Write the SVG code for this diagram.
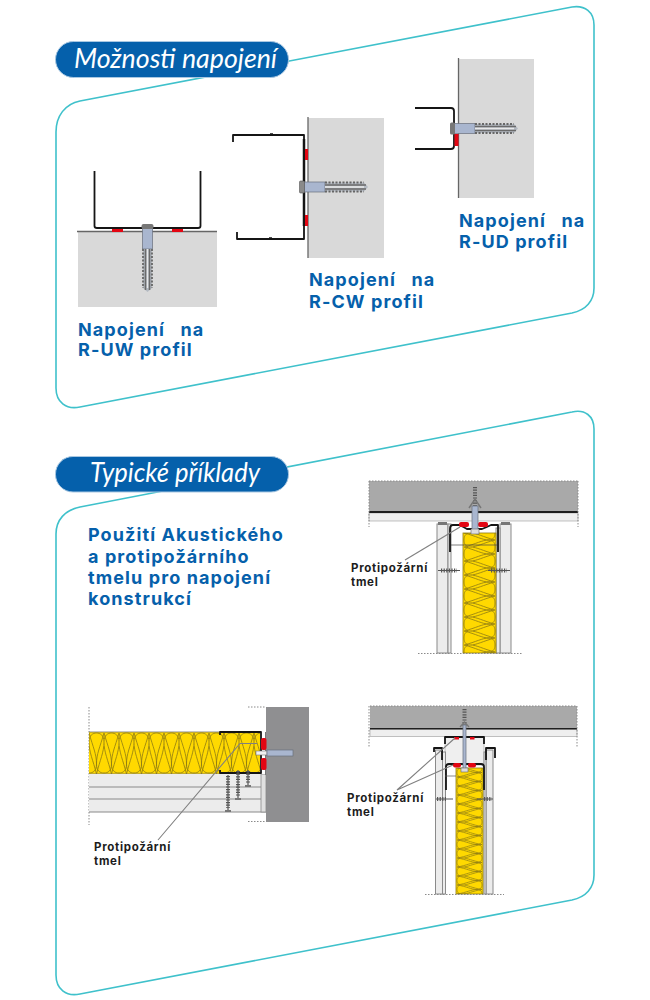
<svg xmlns="http://www.w3.org/2000/svg" xmlns:xlink="http://www.w3.org/1999/xlink" width="650" height="1000" viewBox="0 0 650 1000">
<style>
.panel{fill:none;stroke:#3fc1cb;stroke-width:1.6}
.pill{fill:#0560ab;stroke:#a9c8e2;stroke-width:1}
.head{font-family:"Lato","Liberation Sans",sans-serif;font-style:italic;font-size:27px;fill:#fff}
.lab{font-family:"Inter","Liberation Sans",sans-serif;font-weight:700;font-size:18px;letter-spacing:1.1px;fill:#0560ab}
.note{font-family:"Inter","Liberation Sans",sans-serif;font-weight:700;font-size:11.5px;letter-spacing:.7px;fill:#1c1c1c}
.conc{fill:#d9d9d9}
.dark{fill:#a9a9a9}
.prof{fill:none;stroke:#151515;stroke-width:1.8;stroke-linejoin:round}
.red{fill:#e30613}
.edge{stroke:#666;stroke-width:1.3;fill:none}
.board{fill:#ececec;stroke:#8a8a8a;stroke-width:1}
.lead{stroke:#808080;stroke-width:1.1;fill:none}
.dots{stroke:#8a8a8a;stroke-width:1;stroke-dasharray:1.5 1.5;fill:none}
.srod{stroke:#555;stroke-width:1.2}
.sthr{stroke:#555;stroke-width:4;stroke-dasharray:1.2 1.4}
.rod{fill:#a9b6cf;stroke:#68707c;stroke-width:.7}
</style>
<defs>
<g id="anchor">
<rect class="rod" x="0" y="-5" width="21" height="10"/>
<path d="M21-4.500H60L64 0L60 4.500H21Z" fill="#b4bac2"/>
<path d="M21-4.500H60M21 4.500H60" stroke="#666" stroke-width="1.800" stroke-dasharray="2 1.500"/>
<path d="M21-2H62M21 2H62" stroke="#6a6a6a" stroke-width="1.600"/>
<path d="M21 0H60" stroke="#e8e8e8" stroke-width="1.300"/>
</g>
<pattern id="woolA" patternUnits="userSpaceOnUse" x="463" y="533" width="33" height="14">
<rect width="33" height="14" fill="#ffd900"/>
<path d="M32 7C20 4 14 0 7 0C2 0 1 4 1 7C1 10 2 14 7 14C14 14 20 10 32 7ZM1 0C13 3 19 7 26 7C31 7 32 3 32 0M1 0C13-3 19-7 26-7C31-7 32-3 32 0M1 14C13 11 19 7 26 7C31 7 32 11 32 14" fill="none" stroke="#8d7a12" stroke-width=".8"/>
</pattern>
<pattern id="woolB" patternUnits="userSpaceOnUse" x="89" y="732" width="15" height="42">
<rect width="15" height="42" fill="#ffd900"/>
<path d="M7.500 42C4 28 0 20 0 10C0 3 4 1 7.500 1C11 1 15 3 15 10C15 20 11 28 7.500 42ZM0 1C-4 15-7.500 22-7.500 32C-7.500 39-4 41 0 41C4 41 7.500 39 7.500 32C7.500 22 4 15 0 1ZM15 1C11 15 7.500 22 7.500 32C7.500 39 11 41 15 41C19 41 22.500 39 22.500 32C22.500 22 19 15 15 1Z" fill="none" stroke="#8d7a12" stroke-width=".8"/>
</pattern>
<pattern id="woolC" patternUnits="userSpaceOnUse" x="456" y="768" width="27" height="9">
<rect width="27" height="9" fill="#ffd900"/>
<path d="M26 4.500C16 3 12 0 6 0C2 0 1 2 1 4.500C1 7 2 9 6 9C12 9 16 6 26 4.500ZM1 0C11-1.500 15-4.500 21-4.500C25-4.500 26-2 26 0C26 2 25 4.500 21 4.500C15 4.500 11 1.500 1 0ZM1 9C11 7.500 15 4.500 21 4.500C25 4.500 26 7 26 9C26 11 25 13.500 21 13.500C15 13.500 11 10.500 1 9Z" fill="none" stroke="#8d7a12" stroke-width=".7"/>
</pattern>
</defs>

<g id="panel-1">
<path class="panel" d="M56 132C56 116 65 104 80 101L572 7C585 5 594 12 594 25V288C594 301 586 310 572 313L80 407C66 410 56 402 56 388Z"/>
<rect class="pill" x="55.500" y="41.500" width="233" height="36" rx="18"/>
<text class="head" x="74" y="68" textLength="203" lengthAdjust="spacingAndGlyphs">Možnosti napojení</text>
</g>

<g id="r-uw">
<rect class="conc" x="78" y="232" width="139" height="75"/>
<path class="edge" d="M77 231.500H217"/>
<path class="prof" d="M94.500 171V226Q94.500 228 97 228H198Q200.500 228 200.500 226V171"/>
<rect class="red" x="112" y="229" width="11" height="3"/>
<rect class="red" x="172" y="229" width="11" height="3"/>
<use xlink:href="#anchor" href="#anchor" transform="translate(147.500 228) rotate(90)"/>
<rect x="141.500" y="224" width="12" height="5" rx="2" fill="#777"/>
<text class="lab" x="78" y="336" word-spacing="10">Napojení na</text>
<text class="lab" x="78" y="356">R-UW profil</text>
</g>

<g id="r-cw">
<rect class="conc" x="308" y="118" width="76" height="140"/>
<path class="edge" d="M308 117V258"/>
<path class="prof" d="M233 142V135H304V239H237V232"/>
<path d="M304 139V226" stroke="#151515" stroke-width="2.500"/>
<path d="M270 134.500h3M269 238.500h3" stroke="#151515" stroke-width="2.500"/>
<rect class="red" x="305" y="149" width="3" height="11"/>
<rect class="red" x="305" y="215" width="3" height="11"/>
<use xlink:href="#anchor" href="#anchor" transform="translate(304 187)"/>
<rect x="299.500" y="181" width="5" height="12" rx="1" fill="#8a8a8a" stroke="#555" stroke-width=".6"/>
<text class="lab" x="309" y="286" word-spacing="10">Napojení na</text>
<text class="lab" x="309" y="308">R-CW profil</text>
</g>

<g id="r-ud">
<rect class="conc" x="459" y="59" width="75" height="139"/>
<path class="edge" d="M458.500 58V198"/>
<path class="prof" d="M415 108H451Q454 108 454 111V146Q454 149 451 149H415"/>
<rect class="red" x="454.500" y="134" width="4" height="12"/>
<use xlink:href="#anchor" href="#anchor" transform="translate(454 128.500)"/>
<rect x="450" y="122.500" width="5" height="12" rx="1.500" fill="#777"/>
<text class="lab" x="459" y="227" word-spacing="10">Napojení na</text>
<text class="lab" x="459" y="248">R-UD profil</text>
</g>

<g id="panel-2">
<path class="panel" d="M56 534C56 520 65 510 80 507L572 412C585 409 594 416 594 429V875C594 888 586 897 572 900L80 994C66 997 56 989 56 975Z"/>
<rect class="pill" x="55.500" y="456.500" width="233" height="35.500" rx="17.500"/>
<text class="head" x="90" y="482" textLength="170" lengthAdjust="spacingAndGlyphs">Typické příklady</text>
<text class="lab" x="88" y="541">Použití Akustického</text>
<text class="lab" x="88" y="563">a protipožárního</text>
<text class="lab" x="88" y="584">tmelu pro napojení</text>
<text class="lab" x="88" y="605">konstrukcí</text>
</g>

<g id="detail-top">
<rect class="dark" x="369" y="481" width="209" height="30"/>
<rect x="369" y="513" width="209" height="8" fill="#efefef" stroke="#999" stroke-width=".6"/>
<rect x="369" y="511" width="209" height="2" fill="#1e1e1e"/>
<path class="dots" d="M369 481H578M369 481V527M578 481V527"/>
<rect class="board" x="437" y="524" width="11" height="129"/>
<rect class="board" x="448" y="524" width="3" height="129"/>
<rect class="board" x="500" y="524" width="11" height="129"/>
<rect class="board" x="496" y="528" width="4" height="125"/>
<rect x="438" y="522" width="9" height="3" fill="#777"/><rect x="501" y="522" width="9" height="3" fill="#777"/>
<rect x="463" y="533" width="33" height="120" fill="url(#woolA)" stroke="#8d7a12" stroke-width=".8"/>
<path class="prof" d="M450 552V529Q450 525 453 525H459Q464 527 467 529H482Q487 527 491 525H498V552" stroke-width="1.500"/>
<path d="M451 545H497" stroke="#444" stroke-width=".7"/>
<rect class="red" x="459" y="522" width="10" height="5" rx="2"/>
<rect class="red" x="478" y="522" width="10" height="5" rx="2"/>
<path d="M475 487V508" class="sthr"/><path d="M469 508L475 499L481 508" fill="none" stroke="#777" stroke-width="1.500"/>
<rect class="rod" x="472" y="506" width="6" height="25"/>
<rect x="471" y="529" width="8" height="5" fill="#ddd" stroke="#666" stroke-width=".6"/>
<path class="srod" d="M438 570.500H460M488 570.500H510"/>
<path class="sthr" d="M441 570.500H457M491 570.500H507"/>
<path class="dots" d="M418 653.500H523"/>
<path class="lead" d="M460 527L405 560"/>
<text class="note" x="351" y="572">Protipožární</text>
<text class="note" x="351" y="586">tmel</text>
</g>

<g id="detail-side">
<rect x="266" y="707" width="43" height="115" fill="#8f8f91"/>
<path class="dots" d="M89 707V825M248 707H266M248 821.500H266"/>
<rect x="89" y="732" width="171" height="42" fill="url(#woolB)"/>
<path d="M89 732H260M89 774H260" stroke="#6d6d6d" stroke-width=".8"/>
<rect x="89" y="774" width="172" height="38" fill="#ececec"/>
<path d="M89 787H261M89 799H261M89 812H266" stroke="#8a8a8a" stroke-width="1"/>
<rect x="261" y="774" width="5" height="38" fill="#e0e0e0" stroke="#8a8a8a" stroke-width=".8"/>
<path class="prof" d="M220 735V732H261V773H220V770" stroke-width="1.300"/>
<rect x="262" y="732" width="4" height="42" fill="#fff"/>
<path d="M265.500 732V775" stroke="#777" stroke-width="1"/>
<rect class="red" x="261" y="738" width="5.500" height="12" rx="2"/>
<rect class="red" x="261" y="758" width="5.500" height="12" rx="2"/>
<rect x="256" y="751" width="11" height="4" fill="#f0f0f0" stroke="#777" stroke-width=".6"/>
<rect class="rod" x="267" y="750" width="26" height="6"/>
<path class="srod" d="M228 775V812M238 770V799M248 770V786"/>
<path class="sthr" d="M228 776V808M238 771V796M248 771V784"/>
<path d="M225 811h6M235 799h6M245 786h6" stroke="#777" stroke-width="2"/>
<path class="lead" d="M257 743.500H240L158 840"/>
<text class="note" x="94" y="851">Protipožární</text>
<text class="note" x="94" y="865">tmel</text>
</g>

<g id="detail-double">
<rect class="dark" x="370" y="706" width="207" height="22"/>
<rect x="370" y="729" width="207" height="7.500" fill="#efefef" stroke="#999" stroke-width=".6"/>
<rect x="370" y="728" width="207" height="1.500" fill="#1e1e1e"/>
<path class="dots" d="M370 706H577M369 706V748M577 706V748"/>
<rect x="445" y="737" width="39" height="28" fill="#efefef" stroke="#999" stroke-width=".6"/>
<path class="prof" d="M445 744V737H484V744" stroke-width="1.200"/>
<rect class="red" x="454" y="737" width="5" height="2.500"/>
<rect class="red" x="470" y="737" width="4.500" height="2.500"/>
<rect class="board" x="435.500" y="750" width="7" height="144"/>
<rect class="board" x="442.500" y="752" width="3" height="142"/>
<rect class="board" x="486" y="750" width="7" height="144"/>
<rect class="board" x="484" y="752" width="2" height="142"/>
<path class="prof" d="M434 752V748H442L442 760M495 758V748H486V760" stroke-width="1.200"/>
<rect x="456" y="768" width="27" height="126" fill="url(#woolC)" stroke="#8d7a12" stroke-width=".8"/>
<path class="prof" d="M446 790V767Q446 764 449 764H481Q484 764 484 767V790" stroke-width="1.300"/>
<path d="M445 776H456" stroke="#555" stroke-width=".7"/>
<rect class="red" x="453" y="763" width="8" height="4.500" rx="2"/>
<rect class="red" x="468" y="763" width="8" height="4.500" rx="2"/>
<path class="sthr" d="M464.500 709V726"/>
<path d="M460 727L464.500 722L469 727" fill="none" stroke="#777" stroke-width="1.200"/>
<rect class="rod" x="463" y="725" width="3" height="44"/>
<rect x="461" y="768" width="7" height="4" fill="#ddd" stroke="#666" stroke-width=".6"/>
<path class="srod" d="M436 799H453M477 799H493"/>
<path class="sthr" d="M437 799H446M484 799H492"/>
<path class="dots" d="M425 894.500H504"/>
<path class="lead" d="M455 738L397 790L453 765"/>
<text class="note" x="347" y="802">Protipožární</text>
<text class="note" x="347" y="816">tmel</text>
</g>
</svg>
